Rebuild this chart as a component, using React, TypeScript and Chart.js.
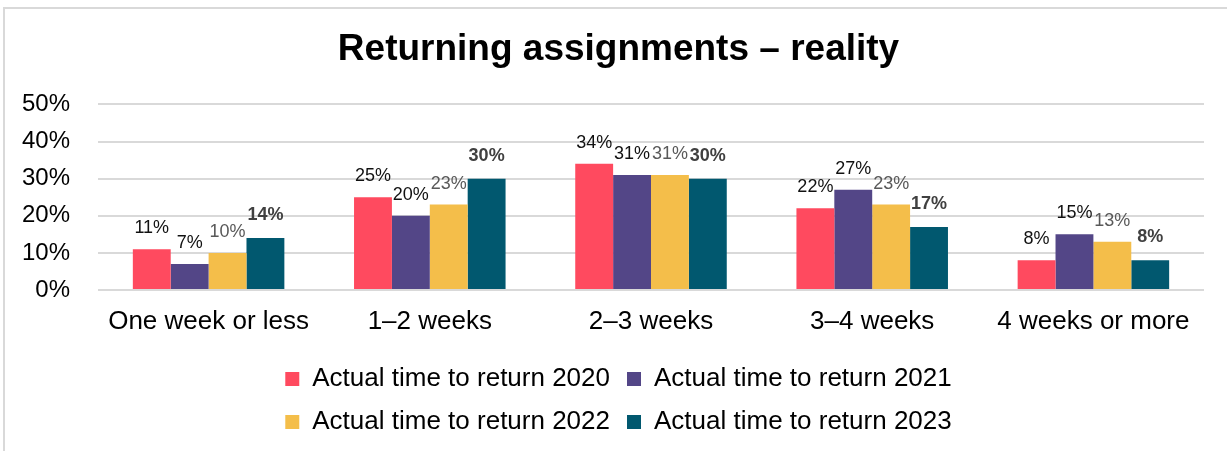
import React, { useEffect, useRef } from "react";
import { Chart, registerables } from "chart.js";

Chart.register(...registerables);

const TITLE = "Returning assignments – reality";
const categories = ["One week or less", "1–2 weeks", "2–3 weeks", "3–4 weeks", "4 weeks or more"];
const seriesNames = [
  "Actual time to return 2020",
  "Actual time to return 2021",
  "Actual time to return 2022",
  "Actual time to return 2023",
];
const values2020 = [11, 25, 34, 22, 8];
const values2021 = [7, 20, 31, 27, 15];
const values2022 = [10, 23, 31, 23, 13];
const values2023 = [14, 30, 30, 17, 8];
const yTicks = [0, 10, 20, 30, 40, 50];

const barColors = ["#FF4A5F", "#534687", "#F4BE4A", "#01586F"];
const labelColors = ["#111111", "#111111", "#595959", "#404040"];
const labelWeights = ["normal", "normal", "normal", "bold"];
const FONT = '"Liberation Sans", Arial, sans-serif';

const dataLabelPlugin = {
  id: "dataLabels",
  afterDatasetsDraw(chart: any) {
    const ctx = chart.ctx;
    ctx.save();
    ctx.textAlign = "center";
    ctx.textBaseline = "alphabetic";
    chart.data.datasets.forEach((ds: any, di: number) => {
      const meta = chart.getDatasetMeta(di);
      if (meta.hidden) return;
      const bold = labelWeights[di] === "bold";
      ctx.font = `${bold ? "bold " : ""}18px ${FONT}`;
      ctx.fillStyle = labelColors[di];
      meta.data.forEach((el: any, i: number) => {
        const v = ds.data[i];
        ctx.fillText(`${v}%`, el.x, el.y - (bold ? 18 : 16));
      });
    });
    ctx.restore();
  },
};

const legendWrapPlugin = {
  id: "legendWrap",
  beforeLayout(chart: any) {
    const lg = chart.legend;
    if (lg && !lg._wrapped) {
      const orig = lg.fit.bind(lg);
      lg.fit = function () {
        const mw = this.maxWidth;
        this.maxWidth = Math.min(mw, 720);
        orig();
        this.maxWidth = mw;
      };
      lg._wrapped = true;
    }
  },
};

export default function App() {
  const ref = useRef<HTMLCanvasElement | null>(null);

  useEffect(() => {
    if (!ref.current) return;
    const allValues = [values2020, values2021, values2022, values2023];
    const chart = new Chart(ref.current, {
      type: "bar",
      data: {
        labels: categories,
        datasets: allValues.map((vals, i) => ({
          label: seriesNames[i],
          data: vals,
          backgroundColor: barColors[i],
          borderWidth: 0,
          barPercentage: 1,
          categoryPercentage: 0.685,
        })),
      },
      options: {
        responsive: false,
        animation: false,
        devicePixelRatio: 1,
        layout: { padding: { top: 8, left: 10, right: 0, bottom: 6 } },
        plugins: {
          title: {
            display: true,
            text: TITLE,
            color: "#000",
            font: { family: FONT, size: 37, weight: "bold" },
            padding: { top: 20, bottom: 32 },
          },
          legend: {
            position: "bottom",
            labels: {
              boxWidth: 14,
              boxHeight: 14,
              padding: 17,
              color: "#000",
              font: { family: FONT, size: 26 },
            },
          },
          tooltip: { enabled: false },
        },
        scales: {
          x: {
            grid: { display: false, drawTicks: false },
            border: { display: false },
            ticks: {
              color: "#000",
              padding: 16,
              maxRotation: 0,
              font: { family: FONT, size: 26 },
            },
            afterFit: (s: any) => {
              s.height = 59;
            },
          },
          y: {
            min: yTicks[0],
            max: yTicks[yTicks.length - 1],
            grid: { color: "#D9D9D9", lineWidth: 2, drawTicks: false },
            border: { display: false },
            afterBuildTicks: (s: any) => {
              s.ticks = yTicks.map((v) => ({ value: v }));
            },
            ticks: {
              color: "#000",
              padding: 28,
              font: { family: FONT, size: 24 },
              callback: (v: any) => `${v}%`,
            },
            afterFit: (s: any) => {
              s.width = 88;
            },
          },
          yRight: {
            type: "linear",
            axis: "y",
            position: "right",
            display: true,
            grid: { display: false, drawTicks: false },
            border: { display: false },
            ticks: { display: false },
            afterFit: (s: any) => {
              s.width = 23;
            },
          },
        },
      },
      plugins: [dataLabelPlugin, legendWrapPlugin],
    });
    return () => chart.destroy();
  }, []);

  return (
    <div
      style={{
        position: "absolute",
        left: 0,
        top: 0,
        width: 1227,
        height: 451,
        overflow: "hidden",
        background: "#fff",
      }}
    >
      <canvas ref={ref} width={1227} height={451} style={{ display: "block" }} />
      <div
        style={{
          position: "absolute",
          left: 3,
          top: 7,
          width: 1300,
          height: 500,
          borderTop: "2px solid #D9D9D9",
          borderLeft: "2px solid #D9D9D9",
          pointerEvents: "none",
        }}
      />
    </div>
  );
}
